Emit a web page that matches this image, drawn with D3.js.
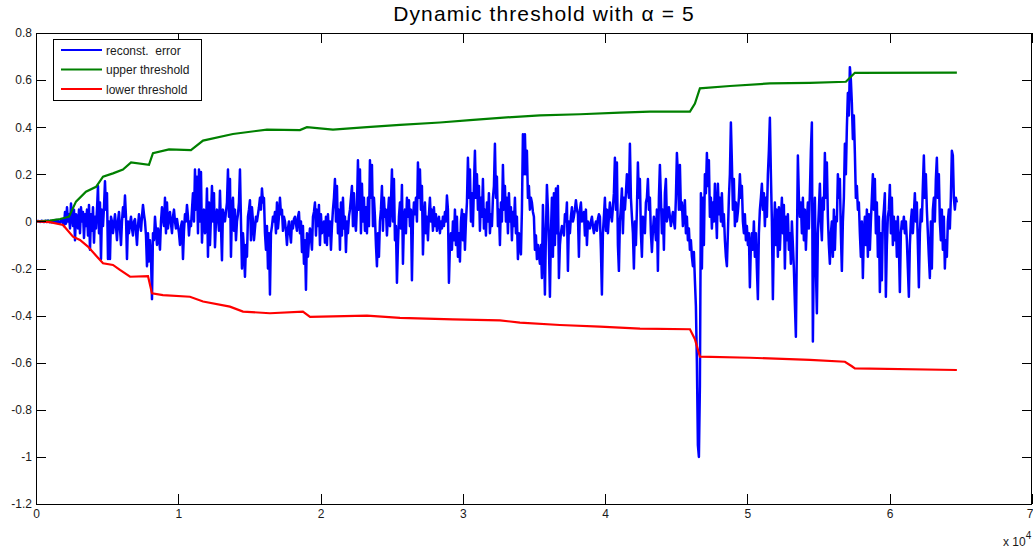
<!DOCTYPE html>
<html>
<head>
<meta charset="utf-8">
<script src="https://cdn.jsdelivr.net/npm/d3@7/dist/d3.min.js"></script>
<style>
  html, body { margin: 0; padding: 0; background: #ffffff; }
  svg { display: block; font-family: Arial, "Liberation Sans", Helvetica, sans-serif; }
</style>
</head>
<body>
<svg id="chart" width="1033" height="552"></svg>
<script>
// ---------------- DATA ----------------
const titleText = "Dynamic threshold with \u03B1 = 5";
const seriesNames = ["reconst.  error", "upper threshold", "lower threshold"];
const seriesColors = ["#0000ff", "#008000", "#ff0000"];
const xTicks = [0, 10000, 20000, 30000, 40000, 50000, 60000, 70000];
const xTickLabels = ["0", "1", "2", "3", "4", "5", "6", "7"];
const yTicks = [-1.2, -1, -0.8, -0.6, -0.4, -0.2, 0, 0.2, 0.4, 0.6, 0.8];
const yTickLabels = ["-1.2", "-1", "-0.8", "-0.6", "-0.4", "-0.2", "0", "0.2", "0.4", "0.6", "0.8"];
const xExponentBase = "x 10";
const xExponent = "4";

// reconstruction error, one value every blueStep samples
const blueStep = 70.27;
const errorValues = [
 0,0.001,0.002,0,-0.002,0.001,0.003,-0.002,-0.003,0.002,
 0.003,-0.002,0.004,0,-0.003,0.002,-0.004,0.003,0.005,-0.003,
 0.006,-0.002,0.004,-0.005,-0.006,0.005,0.01,-0.01,-0.02,0.04,
 -0.01,0.06,0.0,0.03,-0.03,0.076,0.02,-0.02,0.05,-0.08,
 0.03,0.02,-0.03,0.05,-0.05,0.06,0.0,0.04,-0.07,0.03,
 -0.02,0.05,-0.06,0.07,-0.12,0.03,-0.04,0.06,-0.09,0.02,
 -0.03,0.05,0.15,-0.05,0.08,-0.16,0.05,-0.02,0.06,0.17,
 0.05,0.12,-0.16,0.0,-0.16,0.02,0.0,-0.05,-0.01,0.03,
 -0.02,-0.08,0.0,0.04,-0.03,-0.1,0.0,0.06,0.02,0.11,
 0.02,-0.16,0.0,-0.05,-0.01,0.02,-0.03,-0.06,0.0,0.01,
 -0.04,-0.1,-0.02,0.03,-0.01,-0.04,0.02,0.07,0.03,0.0,
 -0.06,-0.19,-0.05,-0.17,-0.08,-0.15,-0.33,-0.05,-0.08,0.02,
 -0.04,-0.1,-0.03,-0.06,-0.12,0.0,0.06,0.01,-0.02,0.1,
 -0.05,0.08,-0.03,0.02,0.04,-0.01,-0.05,0.02,0.05,0.0,
 -0.03,0.01,-0.02,-0.05,-0.1,-0.02,0.0,-0.16,-0.04,0.03,
 0.0,0.07,0.02,-0.06,0.0,-0.02,0.05,0.12,0.0,0.22,
 0.05,0.19,-0.05,0.22,0.0,0.21,-0.09,0.02,0.05,-0.05,
 -0.03,0.14,-0.15,0.08,-0.1,0.02,0.15,0.0,0.12,-0.11,
 0.0,0.05,0.02,-0.04,0.13,-0.02,-0.165,0.05,0.02,0.0,
 0.04,0.08,0.22,0.02,0.18,-0.15,0.05,0.1,-0.04,0.05,
 -0.08,0.0,0.03,0.08,0.22,0.0,-0.2,-0.05,-0.12,-0.235,
 -0.1,-0.15,0.02,0.05,0.09,-0.08,0.06,0.0,-0.08,-0.03,
 0.02,0.0,0.03,0.06,0.1,0.05,0.14,0.08,0.1,-0.05,
 -0.12,-0.02,-0.2,-0.05,-0.31,-0.05,-0.02,0.02,0.0,0.04,
 -0.05,0.08,-0.03,0.02,0.1,0.03,0.05,-0.04,0.02,0.0,
 -0.04,-0.1,-0.03,0.0,-0.05,-0.09,0.0,-0.03,0.01,0.02,
 -0.01,-0.04,0.02,0.04,-0.05,0.0,-0.13,-0.02,-0.18,-0.08,
 -0.29,-0.05,-0.15,-0.08,-0.03,-0.07,-0.12,0.02,0.04,0.08,
 -0.06,0.05,-0.02,0.07,-0.1,0.03,-0.05,-0.02,0.0,-0.09,
 0.02,-0.1,0.03,-0.06,0.0,-0.12,-0.02,0.05,0.1,0.18,
 0.0,0.15,-0.05,0.05,-0.12,0.08,-0.06,0.1,-0.03,0.02,
 -0.13,0.0,-0.05,0.02,0.05,0.1,0.15,-0.02,0.12,0.0,
 -0.04,0.06,0.26,0.05,0.22,-0.05,0.16,0.0,0.1,-0.04,
 0.06,-0.05,0.1,-0.02,0.26,0.1,0.24,-0.02,0.1,0.02,
 -0.1,-0.19,-0.05,-0.15,0.0,0.05,0.15,-0.04,0.1,0.02,
 0.05,-0.06,0.03,0.1,-0.02,0.08,0.22,0.0,0.18,-0.08,
 -0.02,-0.26,-0.1,0.02,0.08,-0.03,0.155,-0.18,0.0,0.05,
 -0.05,0.1,0.02,0.09,-0.02,0.05,-0.25,0.0,0.08,0.03,
 0.1,0.0,0.25,0.1,0.22,0.05,0.15,-0.14,0.0,0.08,
 -0.05,0.02,-0.08,0.03,0.1,0.0,0.05,-0.04,0.06,-0.02,
 0.03,-0.04,0.0,0.02,-0.05,0.0,-0.03,0.02,-0.02,0.04,
 0.0,0.11,0.05,-0.26,-0.1,-0.05,-0.12,0.0,-0.08,0.05,
 -0.1,0.02,-0.15,-0.05,-0.17,0.0,0.05,-0.08,0.03,-0.12,
 0.0,0.08,0.27,0.1,0.22,0.0,0.12,-0.02,0.15,0.3,
 0.1,0.2,0.05,0.15,-0.04,0.1,0.02,0.18,-0.03,0.05,
 -0.06,0.08,0.0,0.12,-0.05,0.03,-0.02,0.1,0.15,0.33,
 0.1,0.19,-0.02,0.05,-0.1,0.08,0.0,0.24,0.05,0.15,
 0.0,0.1,-0.05,0.12,0.0,0.06,-0.08,0.04,-0.02,0.1,
 -0.05,0.02,-0.16,-0.05,-0.1,-0.14,0.05,0.37,0.2,0.37,
 0.2,0.3,0.1,0.15,0.05,0.1,0.08,0.04,0.02,-0.12,
 -0.06,-0.16,-0.1,-0.14,-0.18,-0.1,-0.24,0.07,-0.1,-0.31,
 -0.05,0.155,0.05,-0.1,-0.32,-0.05,0.1,-0.15,0.12,-0.1,
 0.14,-0.05,0.15,-0.24,-0.1,-0.05,-0.02,-0.04,-0.06,0.03,
 0.0,0.08,-0.21,0.0,-0.05,0.02,0.06,0.0,0.02,0.05,
 0.09,0.05,0.03,-0.15,0.05,0.08,0.0,0.02,0.04,-0.06,
 0.05,-0.1,0.0,-0.02,-0.03,0.0,0.02,-0.02,-0.05,-0.02,
 0.0,-0.04,0.01,0.03,0.02,-0.12,-0.31,-0.05,0.02,0.1,
 -0.04,0.05,-0.05,0.02,0.08,0.03,0.0,0.06,0.12,0.27,
 0.05,0.25,-0.1,-0.21,0.0,0.06,0.14,-0.05,0.1,0.05,
 0.12,0.2,0.15,0.1,0.33,0.1,0.02,-0.05,-0.2,0.0,
 -0.1,0.05,0.25,0.1,0.18,-0.05,-0.15,0.02,-0.02,-0.05,
 0.08,0.1,0.18,0.05,0.1,-0.05,-0.13,-0.04,0.02,-0.02,
 -0.08,0.05,-0.21,0.1,0.24,0.1,-0.05,0.05,-0.12,0.12,
 0.18,0.0,0.03,0.06,0.02,-0.02,0.01,0.04,0.0,-0.03,
 0.1,0.29,0.2,0.05,0.24,0.05,0.08,-0.02,0.03,0.09,
 -0.05,0.02,-0.08,-0.03,-0.12,-0.08,-0.15,-0.19,-0.13,-0.25,
 -0.36,-0.6,-0.95,-1.0,-0.7,0.12,-0.2,0.1,-0.1,0.2,
 0.12,0.29,0.15,0.26,0.02,0.1,-0.03,0.08,0.0,0.16,
 0.05,-0.07,0.16,0.03,0.1,0.0,0.12,-0.02,0.03,-0.08,
 -0.15,-0.19,-0.05,0.1,0.2,0.42,0.25,0.05,0.18,-0.02,
 0.08,0.0,0.04,0.1,0.2,0.1,0.15,0.0,-0.05,0.03,
 -0.08,-0.02,-0.1,-0.05,-0.28,-0.1,-0.05,-0.12,0.0,-0.15,
 -0.05,-0.2,-0.33,-0.05,0.05,0.1,0.16,0.05,0.12,-0.02,
 0.1,0.02,0.2,0.3,0.44,0.2,0.0,-0.33,-0.05,0.08,
 -0.1,0.05,-0.15,0.06,-0.12,0.0,0.1,-0.05,0.07,-0.2,
 0.02,-0.08,0.03,-0.12,-0.05,-0.18,0.0,-0.1,-0.2,-0.35,
 -0.49,-0.1,0.28,0.1,0.02,0.08,-0.05,0.1,-0.08,0.05,
 -0.12,0.0,0.08,-0.03,0.12,0.3,0.42,-0.51,-0.1,0.1,
 -0.2,-0.39,-0.05,0.05,0.16,0.0,-0.08,0.1,0.05,0.29,
 0.1,0.25,0.02,-0.1,-0.18,-0.05,0.0,-0.15,0.05,-0.12,
 0.02,0.0,0.2,0.1,0.18,-0.05,-0.21,0.0,0.1,0.33,
 0.2,0.4,0.545,0.45,0.655,0.6,0.5,0.35,0.45,0.29,
 0.1,0.15,0.05,0.08,-0.05,-0.15,0.0,-0.24,-0.05,0.02,
 -0.1,0.05,-0.15,0.03,-0.12,0.0,0.1,0.2,0.05,0.18,
 -0.05,0.08,-0.15,0.02,-0.3,-0.05,-0.25,0.0,0.05,0.12,
 -0.32,-0.1,0.02,0.05,0.155,-0.05,0.1,-0.1,0.02,-0.08,
 0.0,-0.15,0.02,-0.1,-0.3,-0.05,0.0,-0.03,0.02,-0.05,
 0.0,-0.08,-0.2,-0.32,-0.1,0.0,0.05,-0.05,0.03,0.12,
 0.0,0.08,-0.1,-0.28,-0.05,0.05,0.0,0.15,0.28,0.1,
 0.2,0.05,-0.05,-0.15,-0.24,0.0,-0.2,0.05,0.1,0.0,
 0.18,0.27,0.1,0.2,0.0,-0.08,0.05,-0.12,0.02,-0.2,
 -0.08,-0.15,0.0,0.05,-0.03,0.1,0.3,0.28,0.1,0.05,
 0.1,0.08
];

// upper threshold (x in samples, value)
const upperX = [0,980,1690,2320,2810,3510,4220,4710,5410,6110,6680,7940,8220,9350,10890,11740,
  13840,16230,18550,19040,20870,23260,25580,28390,30500,32610,35420,38230,41040,43150,
  45960,46310,46660,48770,51580,54390,56920,57200,57550,64720];
const upperVals = [0,0.003,0.01,0.02,0.084,0.126,0.147,0.19,0.204,0.22,0.25,0.24,0.29,0.306,0.303,0.343,
  0.371,0.39,0.388,0.40,0.39,0.40,0.41,0.42,0.43,0.44,0.45,0.455,0.462,0.466,
  0.466,0.50,0.565,0.575,0.586,0.588,0.593,0.61,0.631,0.632];

// lower threshold (x in samples, value)
const lowerX = [0,980,1900,2600,3090,3650,4290,4710,5410,5900,6610,7870,8150,8920,10820,11740,
  13630,14550,16440,18760,19260,23260,25580,29300,32610,34010,36820,39630,42450,45960,
  46310,46660,50180,54390,56850,57340,57550,64720];
const lowerVals = [0,-0.003,-0.015,-0.065,-0.079,-0.107,-0.15,-0.178,-0.185,-0.206,-0.235,-0.232,-0.305,-0.313,-0.32,-0.34,
  -0.362,-0.383,-0.39,-0.383,-0.405,-0.40,-0.41,-0.416,-0.42,-0.43,-0.44,-0.447,-0.455,-0.458,
  -0.50,-0.574,-0.579,-0.588,-0.596,-0.615,-0.624,-0.631];

// ---------------- CHART ----------------
const svg = d3.select("#chart");
const W = 1033, H = 552;
const plot = { left: 36, right: 1032, top: 33, bottom: 504 };

const x = d3.scaleLinear().domain([0, 70000]).range([plot.left, plot.right]);
const y = d3.scaleLinear().domain([-1.2, 0.8]).range([plot.bottom, plot.top]);

svg.append("rect").attr("width", W).attr("height", H).attr("fill", "#ffffff");

svg.append("defs").append("clipPath").attr("id", "clip")
  .append("rect").attr("x", plot.left).attr("y", plot.top)
  .attr("width", plot.right - plot.left).attr("height", plot.bottom - plot.top);

const lineGen = d3.line().x(d => x(d[0])).y(d => y(d[1]));

const errorData = errorValues.map((v, i) => [i * blueStep, v]);
const upperData = upperX.map((v, i) => [v, upperVals[i]]);
const lowerData = lowerX.map((v, i) => [v, lowerVals[i]]);

const g = svg.append("g").attr("clip-path", "url(#clip)");
g.append("path").datum(errorData).attr("d", lineGen)
  .attr("fill", "none").attr("stroke", seriesColors[0]).attr("stroke-width", 2.5)
  .attr("stroke-linejoin", "round");
g.append("path").datum(upperData).attr("d", lineGen)
  .attr("fill", "none").attr("stroke", seriesColors[1]).attr("stroke-width", 2.2);
g.append("path").datum(lowerData).attr("d", lineGen)
  .attr("fill", "none").attr("stroke", seriesColors[2]).attr("stroke-width", 2.2);

// axes
const axisColor = "#000000";
const tickLen = 10;
function styleAxis(sel) {
  sel.select(".domain").remove();
  sel.selectAll(".tick line").attr("stroke", axisColor).attr("shape-rendering", "crispEdges");
  sel.selectAll(".tick text").attr("fill", "#1a1a1a").style("font-size", "12px")
    .style("font-family", "Arial, 'Liberation Sans', Helvetica, sans-serif");
}

const xAxisG = svg.append("g").attr("transform", `translate(0,${plot.bottom})`)
  .call(d3.axisBottom(x).tickValues(xTicks).tickFormat((d, i) => xTickLabels[i])
    .tickSizeInner(-tickLen).tickSizeOuter(0).tickPadding(5))
  .call(styleAxis);
// last label sits at the figure edge: keep it inside
xAxisG.selectAll(".tick text").filter(d => d === xTicks[xTicks.length - 1])
  .attr("text-anchor", "end").attr("x", 1);

svg.append("g").attr("transform", `translate(0,${plot.top})`)
  .call(d3.axisTop(x).tickValues(xTicks).tickFormat("")
    .tickSizeInner(-tickLen).tickSizeOuter(0))
  .call(styleAxis);
svg.append("g").attr("transform", `translate(${plot.left},0)`)
  .call(d3.axisLeft(y).tickValues(yTicks).tickFormat((d, i) => yTickLabels[i])
    .tickSizeInner(-tickLen).tickSizeOuter(0).tickPadding(4))
  .call(styleAxis);
svg.append("g").attr("transform", `translate(${plot.right},0)`)
  .call(d3.axisRight(y).tickValues(yTicks).tickFormat("")
    .tickSizeInner(-tickLen).tickSizeOuter(0))
  .call(styleAxis);

// box
svg.append("rect").attr("x", plot.left + 0.5).attr("y", plot.top + 0.5)
  .attr("width", plot.right - plot.left - 1).attr("height", plot.bottom - plot.top)
  .attr("fill", "none").attr("stroke", axisColor).attr("stroke-width", 1)
  .attr("shape-rendering", "crispEdges");

// exponent label
const expT = svg.append("text").attr("x", 1003).attr("y", 546)
  .style("font-size", "12px").attr("fill", "#1a1a1a");
expT.append("tspan").text(xExponentBase);
expT.append("tspan").attr("dy", -7).style("font-size", "10px").text(xExponent);

// title
svg.append("text").attr("x", (plot.left + plot.right) / 2 + 10).attr("y", 21)
  .attr("text-anchor", "middle").style("font-size", "21px").style("letter-spacing", "1.1px")
  .attr("fill", "#000")
  .text(titleText);

// legend
const leg = svg.append("g");
leg.append("rect").attr("x", 53.5).attr("y", 39.5).attr("width", 148).attr("height", 61)
  .attr("fill", "#ffffff").attr("stroke", "#000").attr("stroke-width", 1)
  .attr("shape-rendering", "crispEdges");
const legRows = [50, 69.5, 89];
seriesNames.forEach((name, i) => {
  leg.append("line").attr("x1", 61).attr("x2", 102).attr("y1", legRows[i]).attr("y2", legRows[i])
    .attr("stroke", seriesColors[i]).attr("stroke-width", 2);
  leg.append("text").attr("x", 106).attr("y", legRows[i] + 4.5)
    .style("font-size", "12px").attr("fill", "#1a1a1a")
    .style("white-space", "pre").attr("xml:space", "preserve").text(name);
});
</script>
</body>
</html>
